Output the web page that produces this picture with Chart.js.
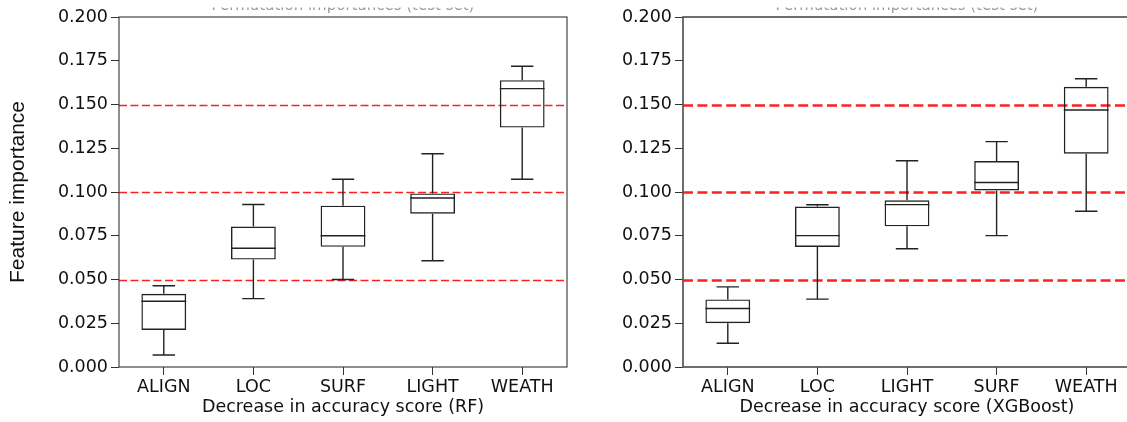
<!DOCTYPE html>
<html>
<head>
<meta charset="utf-8">
<script src="https://cdn.jsdelivr.net/npm/chart.js@4.4.1/dist/chart.umd.min.js"></script>
<style>
  html, body { margin: 0; padding: 0; background: #fff; overflow: hidden; }
  .panel { position: absolute; top: 0; }
</style>
</head>
<body>
<div class="panel" style="left:0px"><canvas id="rfChart" width="600" height="422"></canvas></div>
<div class="panel" style="left:600px"><canvas id="xgbChart" width="540" height="422"></canvas></div>
<script>
// Box plot values (feature importance)
var rfLabels = ['ALIGN', 'LOC', 'SURF', 'LIGHT', 'WEATH'];
var rfLow = [0.0069, 0.0391, 0.0500, 0.0607, 0.1073];
var rfQ1 = [0.0212, 0.0614, 0.0687, 0.0876, 0.1368];
var rfMedian = [0.0376, 0.0679, 0.0750, 0.0966, 0.1591];
var rfQ3 = [0.0418, 0.0803, 0.0922, 0.0992, 0.1639];
var rfHigh = [0.0464, 0.0929, 0.1073, 0.1219, 0.1719];

var xgbLabels = ['ALIGN', 'LOC', 'LIGHT', 'SURF', 'WEATH'];
var xgbLow = [0.0136, 0.0388, 0.0676, 0.0751, 0.0890];
var xgbQ1 = [0.0250, 0.0686, 0.0804, 0.1009, 0.1219];
var xgbMedian = [0.0334, 0.0751, 0.0928, 0.1054, 0.1469];
var xgbQ3 = [0.0386, 0.0917, 0.0953, 0.1177, 0.1601];
var xgbHigh = [0.0458, 0.0927, 0.1179, 0.1288, 0.1647];

var refLines = [0.05, 0.10, 0.15];
var yTicks = [0, 0.025, 0.05, 0.075, 0.1, 0.125, 0.15, 0.175, 0.2];

var tickFont = { family: 'DejaVu Sans', size: 17.5 };

function makeBoxChart(id, cfg) {
  var ctx = document.getElementById(id);
  if (!ctx) return;

  // whiskers, caps and medians drawn through the chart's scales
  var boxPlugin = {
    id: 'boxParts',
    beforeDatasetsDraw: function (chart) {
      var c = chart.ctx, a = chart.chartArea, ys = chart.scales.y;
      c.save();
      c.strokeStyle = 'rgba(255,0,0,0.88)';
      c.lineWidth = cfg.refWidth;
      c.setLineDash(cfg.refDash);
      refLines.forEach(function (v) {
        var y = Math.round(ys.getPixelForValue(v)) + 0.5;
        c.beginPath();
        c.moveTo(a.left, y);
        c.lineTo(a.right, y);
        c.stroke();
      });
      c.restore();
    },
    afterDatasetsDraw: function (chart) {
      var c = chart.ctx, xs = chart.scales.x, ys = chart.scales.y;
      c.save();
      c.strokeStyle = '#222';
      c.lineWidth = 1.4;
      cfg.labels.forEach(function (lab, i) {
        var pos = i + 1;
        var xm = xs.getPixelForValue(pos);
        var capL = xs.getPixelForValue(pos - 0.125), capR = xs.getPixelForValue(pos + 0.125);
        var boxL = xs.getPixelForValue(pos - 0.25), boxR = xs.getPixelForValue(pos + 0.25);
        var yLow = ys.getPixelForValue(cfg.low[i]), yHigh = ys.getPixelForValue(cfg.high[i]);
        var yQ1 = ys.getPixelForValue(cfg.q1[i]), yQ3 = ys.getPixelForValue(cfg.q3[i]);
        var yMed = ys.getPixelForValue(cfg.median[i]);
        c.beginPath();
        c.moveTo(xm, yQ3); c.lineTo(xm, yHigh);
        c.moveTo(xm, yQ1); c.lineTo(xm, yLow);
        c.moveTo(capL, yHigh); c.lineTo(capR, yHigh);
        c.moveTo(capL, yLow); c.lineTo(capR, yLow);
        c.moveTo(boxL, yMed); c.lineTo(boxR, yMed);
        c.stroke();
      });
      c.restore();
    },
    afterDraw: function (chart) {
      var c = chart.ctx, a = chart.chartArea;
      c.save();
      // axes frame
      c.strokeStyle = cfg.frameColor;
      c.lineWidth = cfg.frameWidth;
      c.strokeRect(a.left, a.top, a.right - a.left, a.bottom - a.top);
      // title, cut off at the top edge of the picture
      c.beginPath();
      c.rect(0, 7.5, chart.width, 8);
      c.clip();
      c.fillStyle = '#999';
      c.font = '15px "DejaVu Sans"';
      c.textAlign = 'center';
      c.textBaseline = 'alphabetic';
      c.fillText('Permutation importances (test set)', (a.left + a.right) / 2, 9.5);
      c.restore();
    }
  };

  new Chart(ctx, {
    type: 'bar',
    data: {
      datasets: [{
        data: cfg.labels.map(function (lab, i) {
          return { x: i + 1, y: [cfg.q1[i], cfg.q3[i]] };
        }),
        backgroundColor: 'rgba(0,0,0,0)',
        borderColor: '#222',
        borderWidth: 1.4,
        borderSkipped: false,
        categoryPercentage: 1.0,
        barPercentage: 0.5
      }]
    },
    options: {
      responsive: false,
      animation: false,
      events: [],
      layout: { padding: { top: 17, right: cfg.padRight, left: 0, bottom: 0 } },
      plugins: {
        legend: { display: false },
        tooltip: { enabled: false }
      },
      scales: {
        x: {
          type: 'linear',
          min: 0.5,
          max: 5.5,
          offset: false,
          afterBuildTicks: function (scale) {
            scale.ticks = cfg.labels.map(function (lab, i) { return { value: i + 1 }; });
          },
          afterFit: function (scale) { scale.height = 55; },
          ticks: {
            autoSkip: false,
            maxRotation: 0,
            padding: 2,
            color: '#111',
            font: tickFont,
            callback: function (value) { return cfg.labels[value - 1]; }
          },
          grid: { offset: false, drawOnChartArea: false, drawTicks: true, tickLength: 8, color: '#333' },
          border: { display: false },
          title: {
            display: true,
            text: cfg.xTitle,
            color: '#111',
            font: tickFont,
            padding: { top: 0, bottom: 4 }
          }
        },
        y: {
          min: 0,
          max: 0.2,
          afterBuildTicks: function (scale) {
            scale.ticks = yTicks.map(function (v) { return { value: v }; });
          },
          afterFit: function (scale) { scale.width = cfg.yWidth; },
          ticks: {
            padding: 3,
            color: '#111',
            font: tickFont,
            callback: function (value) { return value.toFixed(3); }
          },
          grid: { drawOnChartArea: false, drawTicks: true, tickLength: 8, color: '#333' },
          border: { display: false },
          title: {
            display: cfg.yTitle !== '',
            text: cfg.yTitle,
            color: '#111',
            font: { family: 'Liberation Sans', size: 21 },
            padding: { top: 6, bottom: 0 }
          }
        }
      }
    },
    plugins: [boxPlugin]
  });
}

makeBoxChart('rfChart', {
  labels: rfLabels, low: rfLow, q1: rfQ1, median: rfMedian, q3: rfQ3, high: rfHigh,
  xTitle: 'Decrease in accuracy score (RF)',
  yTitle: 'Feature importance',
  yWidth: 119, padRight: 33,
  refWidth: 1.7, refDash: [8, 3.5],
  frameColor: '#333', frameWidth: 1.1
});

makeBoxChart('xgbChart', {
  labels: xgbLabels, low: xgbLow, q1: xgbQ1, median: xgbMedian, q3: xgbQ3, high: xgbHigh,
  xTitle: 'Decrease in accuracy score (XGBoost)',
  yTitle: '',
  yWidth: 83, padRight: 9,
  refWidth: 2.3, refDash: [10, 4.4],
  frameColor: '#555', frameWidth: 1.7
});
</script>
</body>
</html>
